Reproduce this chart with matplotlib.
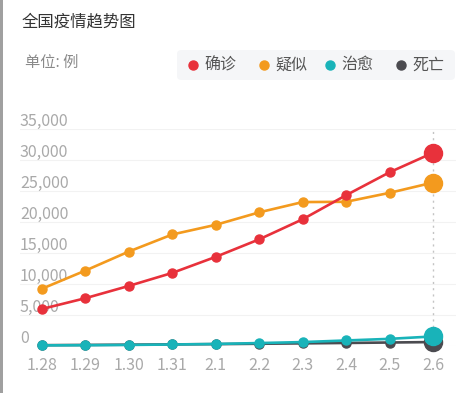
import matplotlib
matplotlib.use("Agg")
import matplotlib.pyplot as plt
from matplotlib.patches import FancyBboxPatch, Rectangle

plt.rcParams['font.family'] = ['Noto Sans CJK SC', 'DejaVu Sans']

# 数据
dates = ['1.28', '1.29', '1.30', '1.31', '2.1', '2.2', '2.3', '2.4', '2.5', '2.6']
confirmed = [5974, 7711, 9692, 11791, 14380, 17205, 20438, 24324, 28018, 31161]
suspected = [9239, 12167, 15238, 17988, 19544, 21558, 23214, 23260, 24702, 26359]
cured = [103, 124, 171, 243, 328, 475, 632, 892, 1153, 1540]
dead = [132, 170, 213, 259, 304, 361, 425, 490, 563, 636]
yticks = [0, 5000, 10000, 15000, 20000, 25000, 30000, 35000]

series = [
    ('疑似', suspected, '#f39a1e'),
    ('确诊', confirmed, '#e8313b'),
    ('死亡', dead, '#4b4b50'),
    ('治愈', cured, '#19b3b9'),
]
legend_order = ['确诊', '疑似', '治愈', '死亡']
colors = {name: c for name, _, c in series}

W, H = 476, 393
fig = plt.figure(figsize=(W / 100, H / 100), dpi=100)
fig.patch.set_facecolor('white')

# 左侧灰色边
fig.add_artist(Rectangle((0, 0), 2.5 / W, 1, transform=fig.transFigure,
                         color='#a0a0a0', lw=0))

ax = fig.add_axes([20 / W, 1 - 346 / H, 436 / W, (346 - 129) / H])
ax.set_xlim(-0.506, 9.53)
ax.set_ylim(0, 35000)
for s in ax.spines.values():
    s.set_visible(False)
ax.set_xticks([])
ax.set_yticks([])

# 网格线
for v in yticks:
    ax.axhline(v, color='#f2f2f2', lw=0.8, zorder=0)
    ax.annotate(f'{v:,}', xy=(0, v), xycoords=('axes fraction', 'data'),
                xytext=(0, -1), textcoords='offset pixels',
                ha='left', va='bottom', fontsize=11.5, color='#a9a9a9')

# 当前点的虚线
ax.axvline(len(dates) - 1, color='#c4c4c4', lw=1, ls=(0, (1.5, 3)), zorder=1)

x = list(range(len(dates)))
for name, vals, c in series:
    ax.plot(x, vals, color=c, lw=1.9, marker='o', ms=6.5, zorder=3,
            clip_on=False)
    ax.plot(x[-1], vals[-1], marker='o', ms=13, color=c, zorder=4,
            clip_on=False)

for xi, d in zip(x, dates):
    ax.annotate(d, xy=(xi, 0), xycoords='data', xytext=(0, -20),
                textcoords='offset pixels', ha='center', va='center',
                fontsize=11.5, color='#a9a9a9')

# 标题
fig.text(22 / W, 1 - 22 / H, '全国疫情趋势图', fontsize=11.8, color='#333333',
         ha='left', va='center')
fig.text(25 / W, 1 - 62 / H, '单位: 例', fontsize=11, color='#8a8a8a',
         ha='left', va='center')

# 图例
fig.add_artist(FancyBboxPatch((177 / W, 1 - 80 / H), 278 / W, 30 / H,
                              boxstyle='round,pad=0,rounding_size=0.01',
                              transform=fig.transFigure,
                              facecolor='#f5f6f8', edgecolor='none'))
leg_x = [193, 264, 330, 401]
for lx, name in zip(leg_x, legend_order):
    fig.add_artist(plt.Line2D([lx / W], [1 - 65 / H], marker='o', ms=6.5,
                              color=colors[name], transform=fig.transFigure))
    fig.text((lx + 11) / W, 1 - 65 / H, name, fontsize=11.5, color='#555555',
             ha='left', va='center')

fig.savefig('out.png', dpi=100)
